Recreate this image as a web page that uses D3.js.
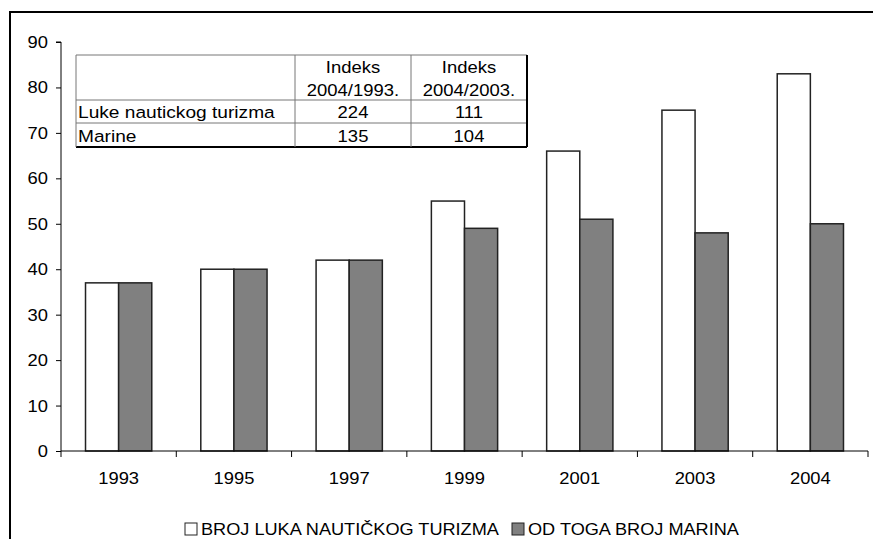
<!DOCTYPE html>
<html><head><meta charset="utf-8">
<script src="https://cdn.jsdelivr.net/npm/d3@7"></script>
<style>body{margin:0;background:#fff}svg{display:block}text{font-family:"Liberation Sans",Arial,sans-serif;fill:#000}</style>
</head><body><svg id="c" width="873" height="539"></svg>
<script>
const years = ["1993","1995","1997","1999","2001","2003","2004"];
const lukeValues = [37,40,42,55,66,75,83];
const marineValues = [37,40,42,49,51,48,50];
const seriesNames = ["BROJ LUKA NAUTIČKOG TURIZMA","OD TOGA BROJ MARINA"];
const yTicks = [0,10,20,30,40,50,60,70,80,90];
const tableHeader = ["", "Indeks\n2004/1993.", "Indeks\n2004/2003."];
const tableRows = [["Luke nautickog turizma","224","111"],["Marine","135","104"]];

const svg = d3.select("#c");
svg.append("rect").attr("x",10).attr("y",12).attr("width",880).attr("height",560).attr("fill","none").attr("stroke","#000").attr("stroke-width",2);

function txt(parent, x, yy, s, anchor, size, sx){
  return parent.append("text")
    .attr("transform","translate("+x+","+yy+") scale("+sx+",1)")
    .attr("dy","0.35em").attr("text-anchor",anchor||"start")
    .style("font-size",size+"px").text(s);
}

const x0 = d3.scaleBand().domain(years).range([61,868]).paddingInner(0).paddingOuter(0);
const y = d3.scaleLinear().domain([0,90]).range([451,42]);
const inner = d3.scaleBand().domain([0,1]).range([0,x0.bandwidth()]).paddingOuter(0.74).paddingInner(0);

// y axis
const ya = svg.append("g").attr("transform","translate(61,0)").call(d3.axisLeft(y).tickValues(yTicks).tickSize(5).tickFormat(""));
ya.select(".domain").attr("stroke","#000").attr("d","M-5,"+y(90)+"H0V"+y(0));
ya.selectAll("line").attr("stroke","#000");
const ylab = svg.append("g");
yTicks.forEach(t=>txt(ylab, 48, y(t), String(t), "end", 17, 1.08));

// bars
const colors = ["#ffffff","#808080"];
const data = years.map((yr,i)=>({yr, v:[lukeValues[i],marineValues[i]]}));
const g = svg.append("g");
data.forEach(d=>{
  d.v.forEach((v,k)=>{
    g.append("rect").attr("x",x0(d.yr)+inner(k)).attr("y",y(v)).attr("width",inner.bandwidth()).attr("height",y(0)-y(v))
     .attr("fill",colors[k]).attr("stroke","#222").attr("stroke-width",1.5);
  });
});

// x axis
const xa = svg.append("g").attr("transform","translate(0,"+y(0)+")").call(d3.axisBottom(x0).tickSize(0).tickFormat(""));
xa.select(".domain").attr("stroke","#000").attr("d","M61,0H868");
const tickPos = years.map(yr=>x0(yr)).concat([x0.range()[1]]);
svg.append("g").selectAll("line").data(tickPos).join("line")
  .attr("x1",d=>d).attr("x2",d=>d).attr("y1",y(0)).attr("y2",y(0)+6).attr("stroke","#000");
const xlab = svg.append("g");
years.forEach(yr=>txt(xlab, x0(yr)+x0.bandwidth()/2, 478, yr, "middle", 17, 1.08));

// table
const colX = [76,295,411,527];
const rowY = [55,100,123,147];
const tg = svg.append("g");
tg.append("rect").attr("x",colX[0]).attr("y",rowY[0]).attr("width",colX[3]-colX[0]).attr("height",rowY[3]-rowY[0]).attr("fill","#fff");
rowY.forEach((ry,i)=>tg.append("line").attr("x1",colX[0]).attr("x2",colX[3]).attr("y1",ry).attr("y2",ry).attr("stroke",i===3?"#000":"#777").attr("stroke-width",i===3?2:1));
colX.forEach((cx,i)=>tg.append("line").attr("x1",cx).attr("x2",cx).attr("y1",rowY[0]).attr("y2",rowY[3]).attr("stroke",i===3?"#000":"#777").attr("stroke-width",i===3?2:1));
tableHeader.forEach((h,c)=>{
  if(!h) return;
  h.split("\n").forEach((line,j)=>txt(tg,(colX[c]+colX[c+1])/2, 67+j*23, line, "middle", 16.5, 1.12));
});
tableRows.forEach((r,i)=>{
  r.forEach((cell,c)=>{
    const cy = (rowY[i+1]+rowY[i+2])/2 + 1;
    if(c===0) txt(tg, colX[0]+2, cy, cell, "start", 16.5, 1.16);
    else txt(tg, (colX[c]+colX[c+1])/2, cy, cell, "middle", 16.5, 1.12);
  });
});

// legend
const lg = svg.append("g");
const legX = [185,512];
seriesNames.forEach((n,k)=>{
  lg.append("rect").attr("x",legX[k]).attr("y",523).attr("width",12).attr("height",12).attr("fill",colors[k]).attr("stroke","#222").attr("stroke-width",1);
  txt(lg, legX[k]+16, 529, n, "start", 16.5, 1.1);
});
</script></body></html>
